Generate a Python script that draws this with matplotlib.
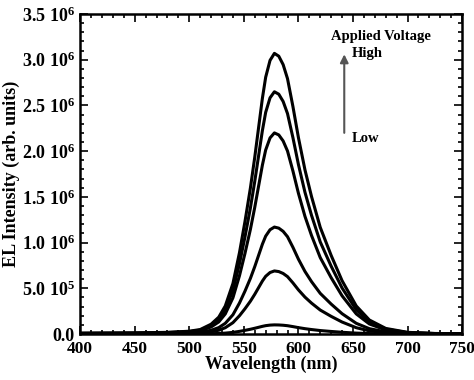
import matplotlib
matplotlib.use("Agg")
import matplotlib.pyplot as plt
import numpy as np
from matplotlib.ticker import MultipleLocator, FixedLocator, FixedFormatter

plt.rcParams["font.family"] = ["Liberation Serif", "DejaVu Serif"]
plt.rcParams["font.weight"] = "bold"
plt.rcParams["mathtext.fontset"] = "custom"
plt.rcParams["mathtext.rm"] = "Liberation Serif:bold"
plt.rcParams["mathtext.bf"] = "Liberation Serif:bold"
plt.rcParams["mathtext.default"] = "rm"

# wavelength grid (nm) and the normalised EL line shape
wavelength = [400, 450, 480, 500, 510, 520, 527, 533, 540, 546, 551, 556,
              560, 564, 567, 570, 574, 578, 582, 586, 590, 595, 600, 606,
              612, 620, 630, 640, 653, 665, 680, 700, 725, 750]
profile = [0.003, 0.004, 0.006, 0.010, 0.016, 0.035, 0.060, 0.100, 0.180,
           0.290, 0.400, 0.520, 0.630, 0.750, 0.840, 0.915, 0.975, 1.000,
           0.990, 0.960, 0.910, 0.810, 0.700, 0.585, 0.490, 0.380, 0.280,
           0.190, 0.100, 0.050, 0.020, 0.006, 0.002, 0.001]

# peak intensity of each spectrum, low -> high applied voltage
peaks = [0.10e6, 0.69e6, 1.17e6, 2.20e6, 2.65e6, 3.07e6]

ytick_vals = [0, 0.5e6, 1.0e6, 1.5e6, 2.0e6, 2.5e6, 3.0e6, 3.5e6]
ytick_labels = ["0.0", "5.0 10$^{5}$", "1.0 10$^{6}$", "1.5 10$^{6}$",
                "2.0 10$^{6}$", "2.5 10$^{6}$", "3.0 10$^{6}$", "3.5 10$^{6}$"]

fig = plt.figure(figsize=(4.74, 3.80), dpi=100)
ax = fig.add_axes([0.169, 0.121, 0.806, 0.842])

wl = np.array(wavelength)
prof = np.array(profile)
for p in peaks:
    ax.plot(wl, p * prof, color="black", lw=2.2, solid_joinstyle="round")

ax.set_xlim(400, 750)
ax.set_ylim(0, 3.5e6)
ax.xaxis.set_major_locator(MultipleLocator(50))
ax.xaxis.set_minor_locator(MultipleLocator(10))
ax.yaxis.set_major_locator(FixedLocator(ytick_vals))
ax.yaxis.set_major_formatter(FixedFormatter(ytick_labels))
ax.yaxis.set_minor_locator(MultipleLocator(0.1e6))
ax.tick_params(which="both", direction="in", top=True, right=True,
               width=1.2)
ax.tick_params(which="major", length=6)
ax.tick_params(which="minor", length=3)
ax.tick_params(axis="x", pad=5, labelsize=12.5)
ax.tick_params(axis="y", pad=4, labelsize=13)
for lab in ax.get_xticklabels() + ax.get_yticklabels():
    lab.set_fontweight("bold")
for s in ax.spines.values():
    s.set_linewidth(1.8)

ax.set_xlabel("Wavelength (nm)", fontsize=13, fontweight="bold", labelpad=-1)
ax.set_ylabel("EL Intensity (arb. units)", fontsize=13, fontweight="bold",
              labelpad=1)

ax.annotate("", xy=(642, 3.09e6), xytext=(642, 2.17e6),
            arrowprops=dict(arrowstyle="-|>", color="#555555", lw=1.5,
                            mutation_scale=12))
ax.text(676, 3.26e6, "Applied Voltage", ha="center", va="center",
        fontsize=10.5, fontweight="bold")
ax.text(649, 3.07e6, "High", ha="left", va="center", fontsize=10.5,
        fontweight="bold")
ax.text(649, 2.14e6, "Low", ha="left", va="center", fontsize=10.5,
        fontweight="bold")

fig.savefig("out.png", dpi=100)
